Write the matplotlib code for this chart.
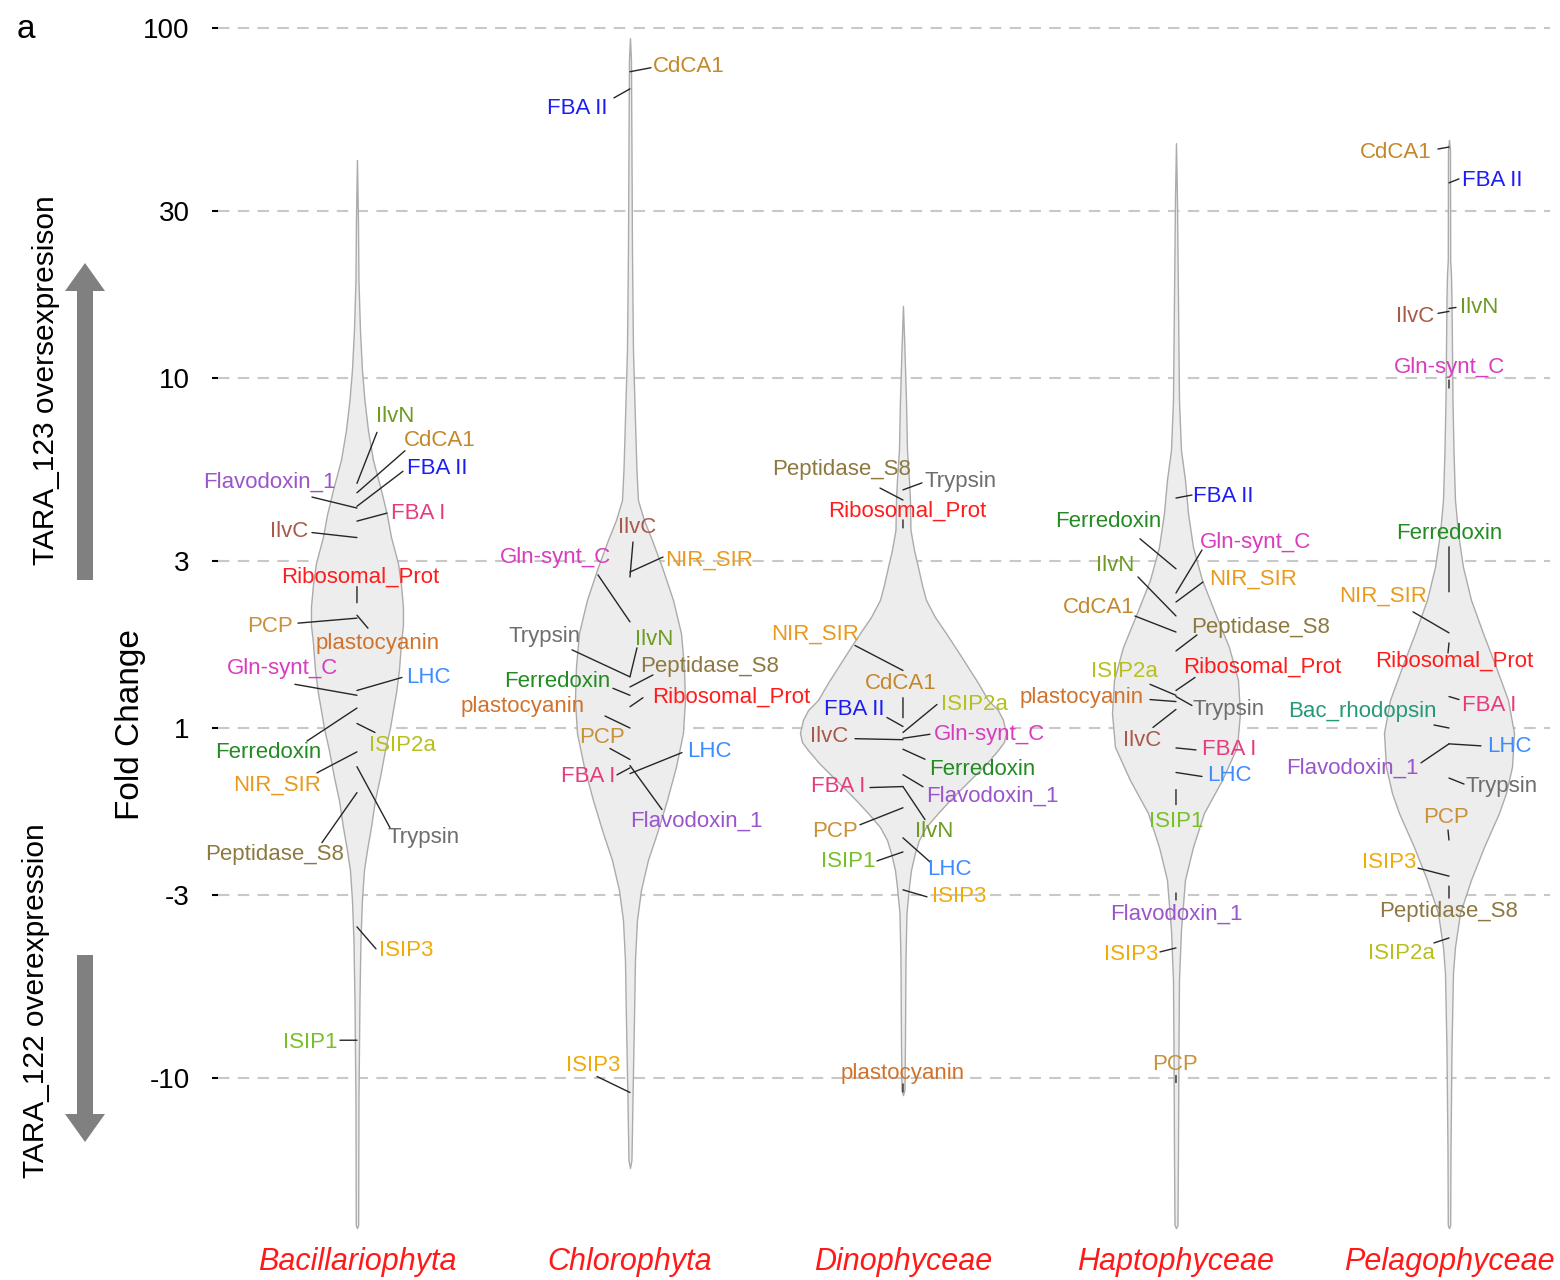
import numpy as np
import matplotlib
matplotlib.use('Agg')
from matplotlib import pyplot as plt
from matplotlib.patches import FancyArrow

plt.rcParams['font.family'] = ['Liberation Sans', 'DejaVu Sans']

taxa = ['Bacillariophyta', 'Chlorophyta', 'Dinophyceae', 'Haptophyceae', 'Pelagophyceae']

# fold change axis: 1 / -1 meet in the middle, both sides on log10
ytick_fc = [100, 30, 10, 3, 1, -3, -10]
ytick_labels = ['100', '30', '10', '3', '1', '-3', '-10']

# violin outlines: level on the signed log10 axis, half width (273 = one taxon slot)
bac_lvl = [1.623, 1.451, 1.28, 1.137, 1.023, 0.937, 0.851, 0.766, 0.68, 0.609, 0.546, 0.471, 0.409, 0.346,
           0.294, 0.243, 0.166, 0.1, 0.051, 0.0, -0.063, -0.14, -0.206, -0.283, -0.349, -0.406, -0.491,
           -0.606, -0.777, -1.063, -1.42, -1.429]
bac_hw = [0, 1, 1.5, 3, 5, 7.5, 11, 16, 24, 30, 34, 41, 44, 46, 46, 44, 42, 39, 36, 33, 28, 23, 18, 14, 10,
          7, 5, 3.5, 2.5, 1.5, 1.2, 0]
chl_lvl = [1.971, 1.909, 1.651, 1.366, 1.08, 0.88, 0.737, 0.651, 0.594, 0.537, 0.46, 0.366, 0.271, 0.174,
           0.08, -0.014, -0.111, -0.206, -0.3, -0.377, -0.463, -0.549, -0.663, -0.834, -1.063, -1.234, -1.257]
chl_hw = [0, 1, 1.5, 2, 3, 5, 6.5, 8, 14, 22, 32, 43, 51, 54, 55, 53, 46, 37, 27, 18, 11, 7, 5, 4, 2.5, 1.5, 0]
din_lvl = [1.206, 1.08, 0.937, 0.794, 0.709, 0.651, 0.566, 0.509, 0.46, 0.409, 0.366, 0.317, 0.271, 0.223,
           0.174, 0.129, 0.08, 0.051, 0.023, -0.014, -0.04, -0.063, -0.1, -0.14, -0.177, -0.206, -0.243,
           -0.283, -0.32, -0.357, -0.406, -0.454, -0.529, -0.663, -0.891, -1.034, -1.049]
din_hw = [0, 1.5, 3, 4, 6, 7, 7.5, 11, 15, 19, 23, 32, 43, 54, 65, 75, 85, 95, 100, 103, 101, 95, 84, 70, 57,
          47, 35, 23, 16, 12, 8, 6, 3.5, 2.5, 2, 1.5, 0]
hap_lvl = [1.671, 1.509, 1.223, 0.937, 0.794, 0.709, 0.614, 0.517, 0.423, 0.329, 0.231, 0.137, 0.043, -0.054,
           -0.149, -0.243, -0.34, -0.434, -0.577, -0.72, -0.911, -1.206, -1.42, -1.429]
hap_hw = [0, 1, 2, 3, 5, 9, 12, 17, 26, 39, 53, 62, 64, 61, 46, 28, 17, 9, 5, 3, 2.5, 2, 1.5, 0]
pel_lvl = [1.68, 1.651, 1.337, 1.294, 1.223, 1.08, 0.937, 0.794, 0.651, 0.557, 0.46, 0.366, 0.271, 0.174,
           0.08, -0.014, -0.111, -0.186, -0.243, -0.34, -0.434, -0.529, -0.626, -0.7, -0.92, -1.206, -1.42,
           -1.429]
pel_hw = [0, 1, 1.2, 2, 2.5, 3, 3.5, 4.5, 6, 9, 14, 22, 34, 47, 59, 65, 63, 57, 50, 35, 22, 11, 6, 4, 2.5,
          1.5, 1.2, 0]

# genes and their fold change per taxon
bac_genes = ['IlvN', 'CdCA1', 'FBA II', 'Flavodoxin_1', 'FBA I', 'IlvC', 'Ribosomal_Prot', 'PCP',
             'plastocyanin', 'Gln-synt_C', 'LHC', 'Ferredoxin', 'ISIP2a', 'NIR_SIR', 'Trypsin',
             'Peptidase_S8', 'ISIP3', 'ISIP1']
bac_fc = [5.0, 4.7, 4.3, 4.25, 3.9, 3.5, 2.28, 2.06, 2.1, 1.24, 1.28, 1.14, 1.03, -1.17, -1.29, -1.53,
          -3.7, -7.8]
chl_genes = ['CdCA1', 'FBA II', 'IlvC', 'NIR_SIR', 'Gln-synt_C', 'IlvN', 'Trypsin', 'Peptidase_S8',
             'Ferredoxin', 'Ribosomal_Prot', 'plastocyanin', 'PCP', 'LHC', 'FBA I', 'Flavodoxin_1', 'ISIP3']
chl_fc = [75, 67, 2.70, 2.79, 2.01, 1.40, 1.40, 1.31, 1.24, 1.15, 1.0, -1.23, -1.35, -1.30, -1.28, -11.0]
din_genes = ['Peptidase_S8', 'Trypsin', 'Ribosomal_Prot', 'NIR_SIR', 'CdCA1', 'FBA II', 'ISIP2a', 'IlvC',
             'Gln-synt_C', 'Ferredoxin', 'Flavodoxin_1', 'FBA I', 'IlvN', 'PCP', 'LHC', 'ISIP1', 'ISIP3',
             'plastocyanin']
din_fc = [4.48, 4.79, 3.73, 1.46, 1.07, 1.01, -1.03, -1.08, -1.07, -1.15, -1.36, -1.47, -1.47, -1.69,
          -2.06, -2.26, -2.90, -10.96]
hap_genes = ['FBA II', 'Ferredoxin', 'Gln-synt_C', 'NIR_SIR', 'IlvN', 'CdCA1', 'Peptidase_S8',
             'Ribosomal_Prot', 'ISIP2a', 'Trypsin', 'plastocyanin', 'IlvC', 'FBA I', 'LHC', 'ISIP1',
             'Flavodoxin_1', 'ISIP3', 'PCP']
hap_fc = [4.54, 2.85, 2.43, 2.29, 2.09, 1.88, 1.66, 1.28, 1.24, 1.23, 1.19, 1.13, -1.14, -1.34, -1.50,
          -2.96, -4.25, -10.3]
pel_genes = ['CdCA1', 'FBA II', 'IlvC', 'IlvN', 'Gln-synt_C', 'Ferredoxin', 'NIR_SIR', 'Ribosomal_Prot',
             'FBA I', 'Bac_rhodopsin', 'LHC', 'Flavodoxin_1', 'Trypsin', 'PCP', 'ISIP3', 'Peptidase_S8',
             'ISIP2a']
pel_fc = [45.7, 36.1, 15.5, 15.8, 9.36, 2.45, 1.87, 1.75, 1.23, 1.0, -1.11, -1.11, -1.39, -2.09, -2.65,
          -2.83, -3.98]

gene_colors = {
    'IlvN': '#6e9a22', 'CdCA1': '#c4872a', 'FBA II': '#1c1cf5', 'Flavodoxin_1': '#9a55cc',
    'FBA I': '#e63c7e', 'IlvC': '#a85a4a', 'Ribosomal_Prot': '#ff1c1c', 'PCP': '#c9913a',
    'plastocyanin': '#d0722c', 'Gln-synt_C': '#d83cbf', 'LHC': '#3c8cff', 'Ferredoxin': '#228b22',
    'ISIP2a': '#b7c01e', 'NIR_SIR': '#e99a1c', 'Peptidase_S8': '#8c7840', 'Trypsin': '#6e6e6e',
    'ISIP3': '#f0aa0a', 'ISIP1': '#78c028', 'Bac_rhodopsin': '#259a78',
}

# label layout, pixels from the gene's point (x right, y down): text centre, leader end
bac_place = [(38, -67, 20, -51), (83, -52, 48, -42), (80, -38, 46, -35), (-88, -26, -45, -11),
             (61, -8, 30, -8), (-68, -6, -45, -5), (3, -26, 0, -16), (-87, 8, -59, 5), (21, 28, 11, 13),
             (-74, -27, -62, -11), (71, -13, 45, -13), (-89, 44, -50, 33), (45, 22, 18, 9),
             (-80, 33, -40, 21), (67, 71, 33, 61), (-82, 62, -35, 50), (49, 24, 19, 22), (-47, 2, -17, 0)]
chl_place = [(59, -5, 21, -4), (-53, 20, -16, 9), (7, -50, 3, -35), (79, -12, 33, -15),
             (-74, -64, -32, -47), (24, -37, 7, -29), (-85, -40, -58, -27), (80, -20, 23, -12),
             (-73, -14, -17, -7), (101, -10, 13, -9), (-107, -21, -25, -12), (-28, -22, -20, -11),
             (79, -22, 52, -21), (-42, 9, -13, 7), (66, 56, 32, 44), (-37, -27, -33, -16)]
din_place = [(-61, -31, -23, -12), (58, -8, 19, -7), (4, -17, 0, -8), (-88, -36, -48, -25),
             (-2, -34, 0, -20), (-49, -17, -16, -9), (71, -28, 34, -28), (-74, -3, -48, -1),
             (87, -4, 27, -4), (79, 20, 22, 10), (89, 21, 20, 12), (-65, 0, -33, 1), (31, 45, 22, 33),
             (-68, 24, -43, 17), (46, 32, 27, 24), (-55, 10, -26, 9), (56, 7, 24, 7), (0, -18, 0, -8)]
hap_place = [(47, -2, 16, -3), (-68, -47, -36, -30), (80, -51, 26, -43), (77, -23, 27, -20),
             (-61, -50, -38, -39), (-77, -25, -41, -16), (85, -23, 21, -16), (86, -23, 19, -13),
             (-52, -24, -26, -11), (53, 13, 16, 9), (-94, -4, -26, -2), (-34, 31, -23, 18), (53, 2, 20, 2),
             (53, 3, 26, 4), (0, 32, 0, 15), (0, 21, 0, 7), (-45, 7, -16, 4), (-1, -18, 0, -7)]
pel_place = [(-53, 5, -11, 2), (43, -2, 10, -4), (-34, 5, -11, 2), (30, -1, 7, -1), (1, -21, 0, -8),
             (0, -58, 0, -45), (-66, -37, -36, -21), (5, 18, -1, 10), (40, 9, 10, 3), (-87, -16, -15, -3),
             (60, 3, 32, 2), (-97, 24, -28, 19), (53, 8, 15, 6), (-3, -23, -1, -10), (-60, -14, -31, -8),
             (0, 25, 0, 12), (-48, 16, -15, 5)]

outlines = [(bac_lvl, bac_hw), (chl_lvl, chl_hw), (din_lvl, din_hw), (hap_lvl, hap_hw), (pel_lvl, pel_hw)]
genes = [(bac_genes, bac_fc, bac_place), (chl_genes, chl_fc, chl_place), (din_genes, din_fc, din_place),
         (hap_genes, hap_fc, hap_place), (pel_genes, pel_fc, pel_place)]


def fc_to_axis(fc):
    fc = np.asarray(fc, dtype=float)
    return np.sign(fc) * np.log10(np.abs(fc))


DPI = 100
PT = 72.0 / DPI   # pixel offsets -> points
SLOT = 273.0      # pixels between taxa

fig = plt.figure(figsize=(15.6, 12.8), dpi=DPI)
ax = fig.add_axes([218 / 1560, 0.03477, (1550 - 218) / 1560, 0.94883])
ax.set_xlim(-0.509, 4.370)
ax.set_ylim(-1.45, 2.02)

# violins
for i, (lvl, hw) in enumerate(outlines):
    w = np.array(hw) / SLOT
    ax.fill_betweenx(lvl, i - w, i + w, facecolor='#ededed', edgecolor='#ababab', linewidth=1.0, zorder=2)

# gene labels with leader lines
for i, (names, fcs, place) in enumerate(genes):
    ys = fc_to_axis(fcs)
    for name, y, (tx, ty, lx, ly) in zip(names, ys, place):
        ax.annotate('', xy=(i, y), xytext=(lx * PT, -ly * PT), textcoords='offset points',
                    arrowprops=dict(arrowstyle='-', color='#262626', lw=1.0, shrinkA=0, shrinkB=0),
                    zorder=3, annotation_clip=False)
        ax.annotate(name, xy=(i, y), xytext=(tx * PT, -ty * PT), textcoords='offset points',
                    ha='center', va='center', fontsize=16, color=gene_colors[name], zorder=4,
                    annotation_clip=False)

# axes styling
ax.set_yticks(fc_to_axis(ytick_fc))
ax.set_yticklabels(ytick_labels)
ax.set_xticks(range(len(taxa)))
ax.set_xticklabels(taxa, fontsize=22, style='italic', color='#ff1a1a')
ax.tick_params(axis='x', length=0, pad=8)
ax.tick_params(axis='y', length=4.3, width=1.5, color='black', direction='out', pad=16, labelsize=20)
ax.yaxis.grid(True, linestyle=(0, (5.5, 4)), color='#c8c8c8', linewidth=1.5, zorder=0)
ax.xaxis.grid(False)
ax.set_axisbelow(True)
for s in ax.spines.values():
    s.set_visible(False)

# left margin: arrows, axis title, panel letter (pixel coords)
ov = fig.add_axes([0, 0, 1, 1])
ov.set_xlim(0, 1560)
ov.set_ylim(1280, 0)
ov.axis('off')
ov.patch.set_alpha(0)
ov.add_patch(FancyArrow(85, 580, 0, -317, width=16, head_width=40, head_length=28,
                        length_includes_head=True, color='#808080', lw=0))
ov.add_patch(FancyArrow(85, 955, 0, 187, width=16, head_width=40, head_length=28,
                        length_includes_head=True, color='#808080', lw=0))
ov.text(46, 380, 'TARA_123 oversexpresison', rotation=90, ha='center', va='center', fontsize=21.5)
ov.text(36, 1001, 'TARA_122 overexpression', rotation=90, ha='center', va='center', fontsize=21.5)
ov.text(130, 725, 'Fold Change', rotation=90, ha='center', va='center', fontsize=24)
ov.text(26, 30, 'a', ha='center', va='center', fontsize=24)

fig.savefig('out.png', dpi=DPI)
